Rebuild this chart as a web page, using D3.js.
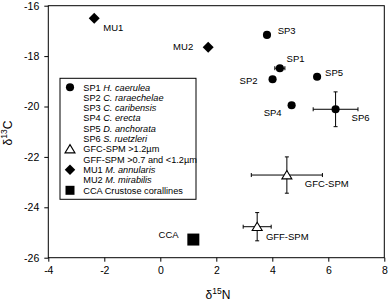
<!DOCTYPE html>
<html>
<head>
<meta charset="utf-8">
<script src="https://cdn.jsdelivr.net/npm/d3@7"></script>
<style>
  body { margin: 0; background: #fff; }
  svg { display: block; font-family: "Liberation Sans", Arial, Helvetica, sans-serif; }
</style>
</head>
<body>
<div class="chart"></div>
<script>
// data
const labels = ["MU1", "MU2", "SP3", "SP1", "SP2", "SP5", "SP4", "SP6", "GFC-SPM", "GFF-SPM", "CCA"];
const groups = ["diamond", "diamond", "circle", "circle", "circle", "circle", "circle", "circle", "triangle", "triangle", "square"];
const d15N = [-2.36, 1.71, 3.81, 4.27, 4.01, 5.6, 4.69, 6.26, 4.52, 3.46, 1.18];
const d13C = [-16.5, -17.65, -17.16, -18.48, -18.92, -18.82, -19.95, -20.11, -22.72, -24.77, -25.28];
const errN = [0, 0, 0, 0.18, 0, 0, 0, 0.8, 1.27, 0.5, 0];
const errC = [0, 0, 0, 0, 0, 0, 0, 0.69, 0.72, 0.56, 0];
const xTicks = [-4, -2, 0, 2, 4, 6, 8];
const yTicks = [-26, -24, -22, -20, -18, -16];

const legendRows = [
  { sym: "circle", code: "SP1", name: "H. caerulea" },
  { sym: null, code: "SP2", name: "C. raraechelae" },
  { sym: null, code: "SP3", name: "C. caribensis" },
  { sym: null, code: "SP4", name: "C. erecta" },
  { sym: null, code: "SP5", name: "D. anchorata" },
  { sym: null, code: "SP6", name: "S. ruetzleri" },
  { sym: "triangle", code: "GFC-SPM >1.2\u00b5m", name: "" },
  { sym: null, code: "GFF-SPM >0.7 and <1.2\u00b5m", name: "" },
  { sym: "diamond", code: "MU1", name: "M. annularis" },
  { sym: null, code: "MU2", name: "M. mirabilis" },
  { sym: "square", code: "CCA Crustose corallines", name: "" }
];

// label placement (offset from the point, anchor)
const labelPos = {
  "MU1": [9, 9.4, "start"], "MU2": [-15, -0.6, "end"], "SP3": [10.7, -4.3, "start"],
  "SP1": [6.7, -9.3, "start"], "SP2": [-15, 1, "end"], "SP5": [8, -4.4, "start"],
  "SP4": [-10, 7.4, "end"], "SP6": [16, 8, "start"], "GFC-SPM": [18, 8.3, "start"],
  "GFF-SPM": [8.7, 10, "start"], "CCA": [-14.7, -4.4, "end"]
};

const W = 388, H = 302;
const x = d3.scaleLinear().domain([-4, 8]).range([48.3, 384.3]);
const y = d3.scaleLinear().domain([-26, -16]).range([257.7, 5.7]);

const svg = d3.select(".chart").append("svg").attr("width", W).attr("height", H);

// frame
svg.append("rect")
  .attr("x", x(-4)).attr("y", y(-16))
  .attr("width", x(8) - x(-4)).attr("height", y(-26) - y(-16))
  .attr("fill", "none").attr("stroke", "#000").attr("stroke-width", 1);

const xAxis = d3.axisBottom(x).tickValues(xTicks).tickSize(4).tickPadding(5).tickFormat(d => String(d));
const yAxis = d3.axisLeft(y).tickValues(yTicks).tickSize(4).tickPadding(5).tickFormat(d => String(d));

svg.append("g").attr("transform", "translate(0," + y(-26) + ")").call(xAxis)
  .call(g => g.select(".domain").remove());
svg.append("g").attr("transform", "translate(" + x(-4) + ",0)").call(yAxis)
  .call(g => g.select(".domain").remove());
svg.selectAll(".tick text").attr("font-size", 10.5).attr("font-family", null).attr("fill", "#000");
svg.selectAll(".tick line").attr("stroke", "#000");

// axis titles
const xt = svg.append("text").attr("x", 218).attr("y", 299).attr("text-anchor", "middle").attr("font-size", 12);
xt.append("tspan").text("\u03b4");
xt.append("tspan").attr("font-size", 8.5).attr("dy", -5).text("15");
xt.append("tspan").attr("dy", 5).text("N");

const yt = svg.append("text").attr("transform", "translate(12,133) rotate(-90)").attr("text-anchor", "middle").attr("font-size", 12);
yt.append("tspan").text("\u03b4");
yt.append("tspan").attr("font-size", 8.5).attr("dy", -5).text("13");
yt.append("tspan").attr("dy", 5).text("C");

function symbolPath(sym) {
  if (sym === "circle") return d3.symbol(d3.symbolCircle, 52)();
  if (sym === "diamond") return "M0,-5.5L5.5,0L0,5.5L-5.5,0Z";
  if (sym === "square") return "M-6,-6H6V6H-6Z";
  if (sym === "triangle") return "M0,-4.5L5,3.8L-5,3.8Z";
}
function drawSym(g, sym) {
  g.append("path").attr("d", symbolPath(sym))
    .attr("fill", sym === "triangle" ? "#fff" : "#000")
    .attr("stroke", "#000").attr("stroke-width", sym === "triangle" ? 1.1 : 0);
}

// error bars
const pts = labels.map((l, i) => ({ label: l, sym: groups[i], n: d15N[i], c: d13C[i], en: errN[i], ec: errC[i] }));
const eb = svg.append("g").attr("stroke", "#000").attr("stroke-width", 1);
pts.forEach(d => {
  if (d.en > 0) {
    eb.append("line").attr("x1", x(d.n - d.en)).attr("x2", x(d.n + d.en)).attr("y1", y(d.c)).attr("y2", y(d.c));
    [d.n - d.en, d.n + d.en].forEach(v => eb.append("line")
      .attr("x1", x(v)).attr("x2", x(v)).attr("y1", y(d.c) - 2).attr("y2", y(d.c) + 2));
  }
  if (d.ec > 0) {
    eb.append("line").attr("x1", x(d.n)).attr("x2", x(d.n)).attr("y1", y(d.c - d.ec)).attr("y2", y(d.c + d.ec));
    [d.c - d.ec, d.c + d.ec].forEach(v => eb.append("line")
      .attr("x1", x(d.n) - 2).attr("x2", x(d.n) + 2).attr("y1", y(v)).attr("y2", y(v)));
  }
});

// points
svg.selectAll(".pt").data(pts).enter().append("g")
  .attr("class", "pt")
  .attr("transform", d => "translate(" + x(d.n) + "," + y(d.c) + ")")
  .each(function(d) { drawSym(d3.select(this), d.sym); });

// point labels
svg.selectAll(".lbl").data(pts).enter().append("text")
  .attr("class", "lbl")
  .attr("x", d => x(d.n) + labelPos[d.label][0])
  .attr("y", d => y(d.c) + labelPos[d.label][1])
  .attr("dy", "0.35em")
  .attr("text-anchor", d => labelPos[d.label][2])
  .attr("font-size", 9.5)
  .text(d => d.label);

// legend
const lg = svg.append("g");
lg.append("rect").attr("x", 60).attr("y", 78.3).attr("width", 136).attr("height", 121)
  .attr("fill", "#fff").attr("stroke", "#000").attr("stroke-width", 1);
legendRows.forEach((r, i) => {
  const cy = 87.3 + i * 10.3;
  if (r.sym) {
    const g = lg.append("g").attr("transform", "translate(70," + cy + ")" + (r.sym === "square" ? " scale(0.75)" : r.sym === "diamond" ? " scale(0.95)" : ""));
    drawSym(g, r.sym);
  }
  const t = lg.append("text").attr("x", 83.3).attr("y", cy).attr("dy", "0.35em").attr("font-size", 9.2);
  t.append("tspan").text(r.code);
  if (r.name) t.append("tspan").attr("font-style", "italic").text(" " + r.name);
});
</script>
</body>
</html>
